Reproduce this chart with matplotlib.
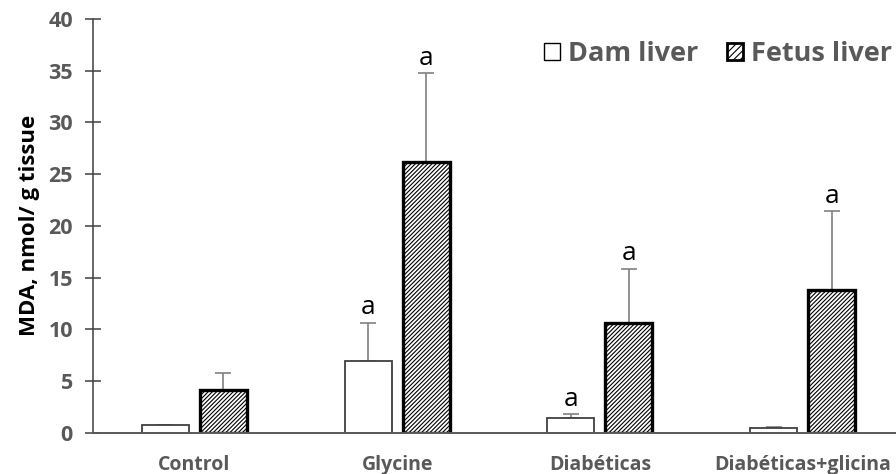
import numpy as np
import matplotlib
matplotlib.use("Agg")
import matplotlib.pyplot as plt
from matplotlib.patches import Patch

groups = ["Control", "Glycine", "Diabéticas", "Diabéticas+glicina"]
dam = [0.7, 6.9, 1.4, 0.42]
dam_err = [0.0, 3.75, 0.4, 0.15]
fetus = [4.1, 26.2, 10.6, 13.8]
fetus_err = [1.65, 8.55, 5.25, 7.65]
dam_marks = ["", "a", "a", ""]
fetus_marks = ["", "a", "a", "a"]

plt.rcParams["font.family"] = ["Open Sans", "DejaVu Sans"]
plt.rcParams["hatch.linewidth"] = 0.8
GRAY = "#595959"

fig = plt.figure(figsize=(8.96, 4.74), dpi=100)
ax = fig.add_axes([93 / 896, 41.3 / 474, 1 - 93 / 896, 413.7 / 474])

x = np.arange(len(groups))
w = 0.2315
off = 0.143
ax.bar(x - off, dam, w, color="white", edgecolor="#404040", linewidth=1.3, zorder=2)
ax.bar(x + off, fetus, w, color="white", edgecolor="black", linewidth=2.4,
       hatch="////////", zorder=2)
ax.errorbar(x - off, dam, yerr=[np.zeros(4), dam_err], fmt="none", ecolor="#808080",
            elinewidth=1.2, capsize=6, capthick=1.2, zorder=1)
ax.errorbar(x + off, fetus, yerr=[np.zeros(4), fetus_err], fmt="none", ecolor="#808080",
            elinewidth=1.2, capsize=6, capthick=1.2, zorder=1)

for i in range(len(groups)):
    if dam_marks[i]:
        ax.text(x[i] - off, dam[i] + dam_err[i] + 0.8, dam_marks[i], ha="center",
                va="baseline", fontsize=19)
    if fetus_marks[i]:
        ax.text(x[i] + off, fetus[i] + fetus_err[i] + 0.8, fetus_marks[i], ha="center",
                va="baseline", fontsize=19)

ax.set_xlim(-0.5, 3.46)
ax.set_ylim(0, 40)
ax.set_yticks(range(0, 41, 5))
ax.tick_params(axis="y", direction="inout", length=11, width=1.1, color="#404040",
               labelsize=15.5, labelcolor=GRAY, pad=9)
for lbl in ax.get_yticklabels():
    lbl.set_fontweight("bold")
ax.set_xticks(x)
ax.set_xticklabels(groups, fontsize=14, fontweight="bold", color=GRAY)
ax.tick_params(axis="x", length=0, pad=16)
for s in ["top", "right"]:
    ax.spines[s].set_visible(False)
ax.spines["left"].set_color("#404040")
ax.spines["left"].set_linewidth(1.1)
ax.spines["bottom"].set_color("#595959")
ax.spines["bottom"].set_linewidth(1.4)
ax.set_ylabel("MDA, nmol/ g tissue", fontsize=16, fontweight="bold", labelpad=6)

handles = [Patch(facecolor="white", edgecolor="black", linewidth=1.0, label="Dam liver"),
           Patch(facecolor="white", edgecolor="black", linewidth=2.0, hatch="/////",
                 label="Fetus liver")]
leg = ax.legend(handles=handles, loc="upper right", bbox_to_anchor=(1.025, 1.005),
                ncol=2, frameon=False, handlelength=0.58, handleheight=0.58,
                handletextpad=0.3, columnspacing=1.05,
                prop={"size": 19.5, "weight": "bold"})
for t in leg.get_texts():
    t.set_color(GRAY)

fig.savefig("out.png", dpi=100)
